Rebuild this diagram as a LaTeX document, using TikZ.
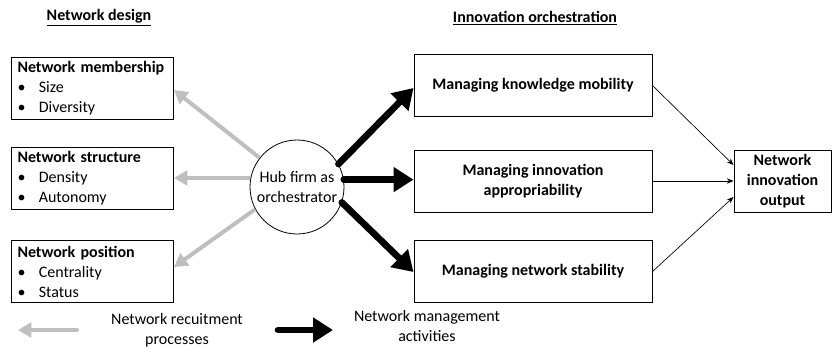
\documentclass[tikz,border=0pt]{standalone}
\usepackage{fontspec}
\setmainfont{Carlito}
\usetikzlibrary{arrows.meta}
\tikzset{
	dbox/.style = {draw, line width = .75pt, minimum width = 161*.75pt, minimum height = 62*.75pt, align = left, text width = 150*.75pt, inner xsep = 4.5pt, inner ysep = 0pt},
	obox/.style = {draw, line width = .75pt, minimum width = 238*.75pt, minimum height = 62*.75pt, align = center, font = \bfseries, inner sep = 0pt},
	greyarr/.style = {draw = black!25, line width = 3pt, -{Triangle[length = 10pt, width = 11pt]}},
	blackarr/.style = {line width = 5pt, line cap = round, -{Triangle[length = 15pt, width = 18pt]}},
	thinarr/.style = {line width = .5pt, -{Stealth[length = 5pt, width = 4pt]}},
	head/.style = {font = \bfseries}
}
\newcommand\bul{\makebox[16pt][l]{\textbullet}}
\begin{document}
\begin{tikzpicture}[x = .75pt, y = -.75pt]
	\fontsize{12}{15}\selectfont
	\useasboundingbox (0, 0) rectangle (832, 347);
	% headings
	\node[head] (hdes) at (99, 18) {\underline{Network design}};
	\node[head] (horch) at (535, 18) {\underline{Innovation orchestration}};
	% network design boxes
	\node[dbox] (memb) at (92.5, 88.5) {\textbf{Network membership}\\ \bul Size\\ \bul Diversity};
	\node[dbox] (struc) at (92.5, 178) {\textbf{Network structure}\\ \bul Density\\ \bul Autonomy};
	\node[dbox] (posn) at (92.5, 271.5) {\textbf{Network position}\\ \bul Centrality\\ \bul Status};
	% hub firm
	\node[draw, circle, line width = .6pt, minimum size = 94*.75pt, inner sep = 0pt, align = center] (hub) at (297, 187) {Hub firm as\\ orchestrator};
	% orchestration boxes
	\node[obox] (know) at (533, 85.5) {Managing knowledge mobility};
	\node[obox] (appr) at (533, 181) {Managing innovation\\ appropriability};
	\node[obox] (stab) at (533, 271.5) {Managing network stability};
	\node[obox, minimum width = 97*.75pt] (outp) at (782.5, 181) {Network\\ innovation\\ output};
	% recruitment processes
	\draw[greyarr] (hub.142) -- (memb.east |- 0, 90);
	\draw[greyarr] (hub.169) -- (struc.east |- hub.169);
	\draw[greyarr] (hub.208) -- (posn.east |- 0, 267);
	% management activities
	\draw[blackarr] (hub.29) -- (know.west |- 0, 88);
	\draw[blackarr] (hub.9) -- (appr.west |- hub.9);
	\draw[blackarr] (hub.-19) -- (stab.west |- 0, 272);
	% outputs
	\foreach \src/\dy in {know/-16, appr/0, stab/16}
		\draw[thinarr] (\src.east) -- ([yshift = -\dy*.75pt]outp.west);
	% legend
	\draw[greyarr, line cap = round] (77, 330) -- (18, 330);
	\node[align = center] (lrec) at (177, 330) {Network recuitment\\ processes};
	\draw[blackarr] (278, 330) -- (333, 330);
	\node[align = center] (lman) at (427, 326) {Network management\\ activities};
\end{tikzpicture}
\end{document}
